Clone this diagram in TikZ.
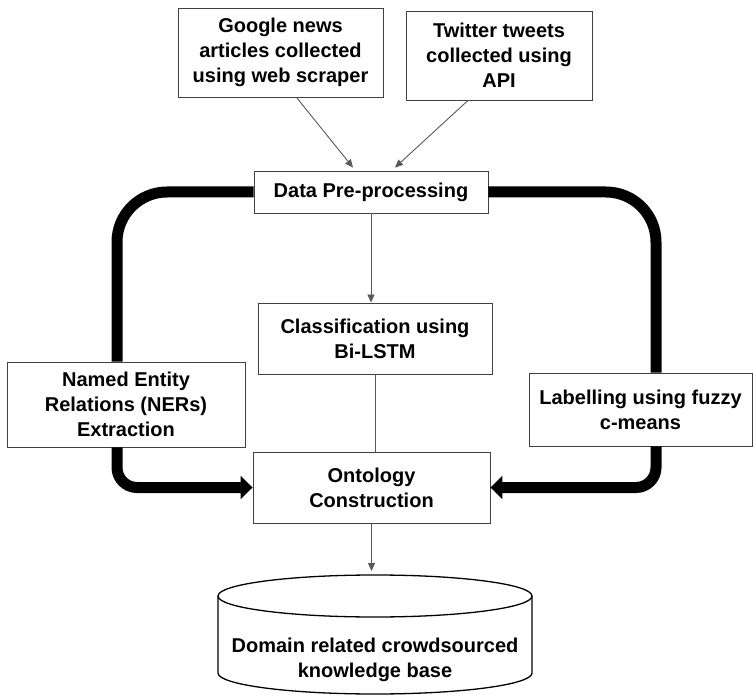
\documentclass[tikz,border=0pt]{standalone}
\usepackage{fontspec}
\setmainfont{Liberation Sans}
\usetikzlibrary{arrows.meta, positioning}

\begin{document}
\begin{tikzpicture}[
        x=1pt, y=-1pt,
        %Styles
        Box/.style={
            draw=black!75, line width=0.9pt,
            align=center,
            font=\fontsize{20}{25}\selectfont\bfseries,
            inner sep=4pt,
        },
        Thin/.style={draw=black!65, line width=0.9pt, -{Triangle[length=8pt, width=7pt]}},
        Loop/.style={line width=11pt, rounded corners=#1},
        Loop/.default=50pt,
        Big/.style={-{Triangle[length=12pt, width=23pt]}},
    ]

\path[fill=white, use as bounding box] (0,0) rectangle (753,695);

%sources
\node[Box, minimum width=205pt, minimum height=89pt] (google) at (280.5,52.5)
    {Google news\\articles collected\\using web scraper};
\node[Box, minimum width=186pt, minimum height=89pt] (twitter) at (499,55.5)
    {Twitter tweets\\collected using\\API};

%pipeline
\node[Box, minimum width=234pt, minimum height=42pt] (prep) at (371,192) {Data Pre-processing};
\node[Box, minimum width=234pt, minimum height=71pt] (classif) at (375,338.5)
    {Classification using\\Bi-LSTM};
\node[Box, minimum width=238pt, minimum height=85pt] (ner) at (126,404.5)
    {Named Entity\\Relations (NERs)\\Extraction};
\node[Box, minimum width=223pt, minimum height=73pt] (label) at (640.5,409.5)
    {Labelling using fuzzy\\c-means};
\node[Box, minimum width=237pt, minimum height=71pt] (onto) at (371.5,487.5)
    {Ontology\\Construction};

%knowledge base (cylinder)
\draw[line width=1.3pt] (218,596) -- (218,673)
    arc[start angle=180, end angle=360, x radius=157pt, y radius=21pt] -- (532,596);
\draw[line width=1.3pt] (375,596) ellipse[x radius=157pt, y radius=21pt];
\coordinate (kbtop) at (375,575);
\node[font=\fontsize{20}{25}\selectfont\bfseries, align=center] (kb) at (375,660)
    {Domain related crowdsourced\\knowledge base};

%thin connectors
\draw[Thin] ([xshift=16pt]google.south) -- ([xshift=-18pt, yshift=3pt]prep.north);
\draw[Thin] ([xshift=-31pt]twitter.south) -- ([xshift=24pt, yshift=3pt]prep.north);
\draw[Thin] (prep.south) -- (prep.south |- classif.north);
\draw[draw=black!65, line width=0.9pt] (classif.south) -- (classif.south |- onto.north);
\draw[Thin, shorten >=4pt] (onto.south) -- (onto.south |- kbtop);

%thick loops
\draw[Loop] (prep.west) -| ([xshift=-9pt]ner.north);
\draw[Loop] (prep.east) -| ([xshift=15.5pt]label.north);
\draw[Loop=20pt, Big] ([xshift=-9pt]ner.south) |- (onto.west);
\draw[Loop=20pt, Big] ([xshift=15.5pt]label.south) |- (onto.east);

\end{tikzpicture}
\end{document}
